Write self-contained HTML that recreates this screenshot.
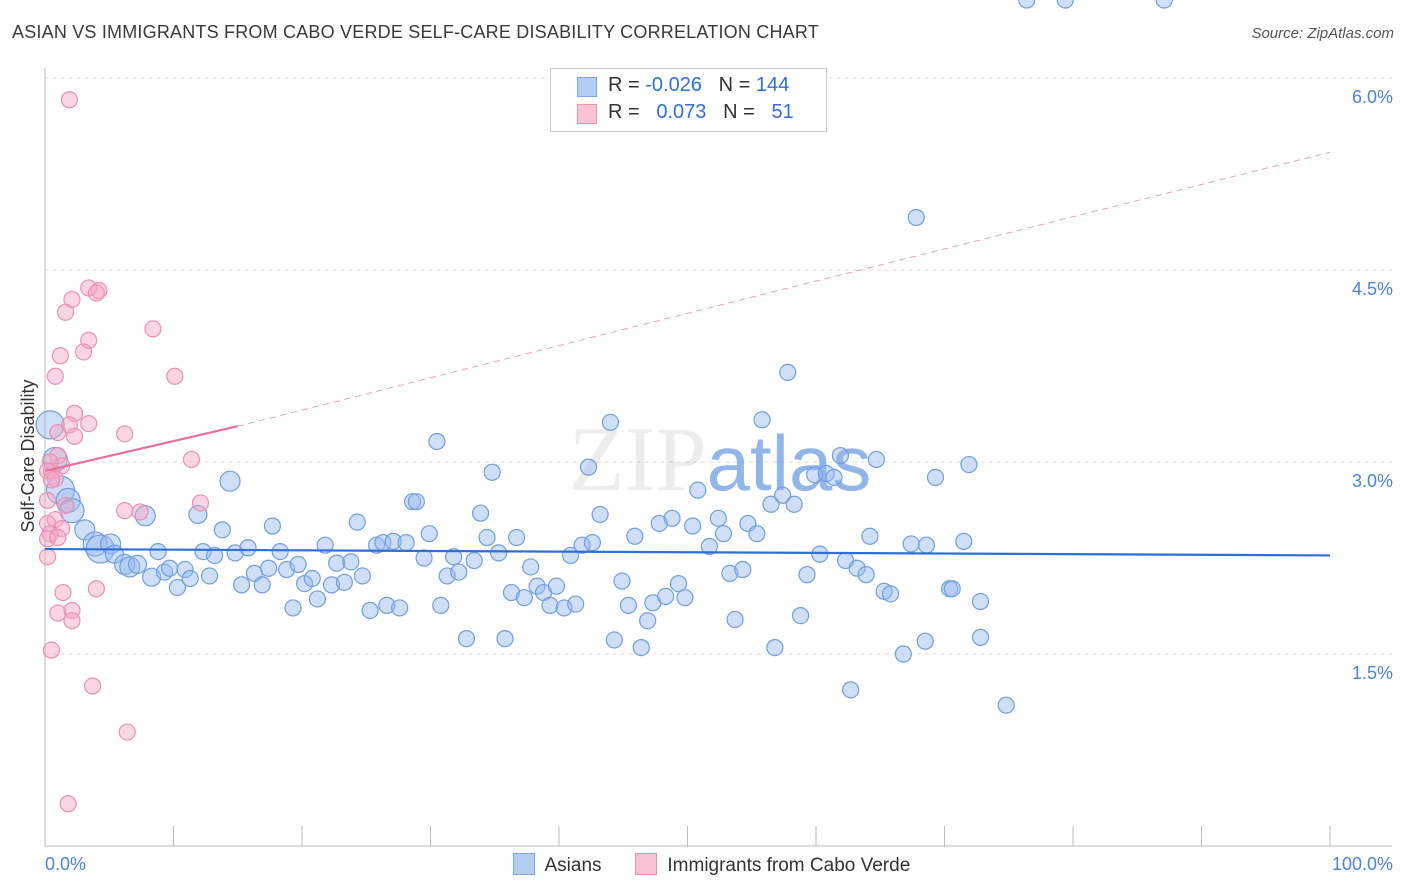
<!DOCTYPE html>
<html><head><meta charset="utf-8">
<style>
body{margin:0;background:#fff;font-family:"Liberation Sans",sans-serif;}
#wrap{position:relative;width:1406px;height:892px;overflow:hidden;}
.t{position:absolute;white-space:nowrap;}
</style></head><body>
<div id="wrap">
<div class="t" style="left:12px;top:22px;font-size:18px;color:#3a3a3a;letter-spacing:0.2px">ASIAN VS IMMIGRANTS FROM CABO VERDE SELF-CARE DISABILITY CORRELATION CHART</div>
<div class="t" style="right:12px;top:25px;font-size:15px;color:#555;font-style:italic">Source: ZipAtlas.com</div>
<svg id="svg" width="1406" height="892" style="position:absolute;left:0;top:0"></svg>
</div>
<script>
const yTicks=[1.5,3.0,4.5,6.0];
const yTickLabels=["1.5%","3.0%","4.5%","6.0%"];
const xTickLabels=["0.0%","100.0%"];
const asianX=[0.4,0.8,1.2,1.8,2.1,3.1,3.9,4.3,5.1,5.4,6.2,6.6,7.2,7.8,8.3,8.8,9.3,9.7,10.3,10.9,11.3,11.9,12.3,12.8,13.2,13.8,14.4,14.8,15.3,15.8,16.3,16.9,17.4,17.7,18.3,18.8,19.3,19.7,20.2,20.8,21.2,21.8,22.3,22.7,23.3,23.8,24.3,24.7,25.3,25.8,26.3,26.6,27.1,27.6,28.1,28.6,28.9,29.5,29.9,30.5,30.8,31.3,31.8,32.2,32.8,33.4,33.9,34.4,34.8,35.3,35.8,36.3,36.7,37.3,37.8,38.3,38.8,39.3,39.8,40.4,40.9,41.3,41.8,42.3,42.6,43.2,44.0,44.3,44.9,45.4,45.9,46.4,46.9,47.3,47.8,48.3,48.8,49.3,49.8,50.4,50.8,51.7,52.4,52.8,53.3,53.7,54.3,54.7,55.4,55.8,56.5,56.8,57.4,57.8,58.3,58.8,59.3,59.9,60.3,60.8,61.4,61.9,62.3,62.7,63.2,63.9,64.2,64.7,65.3,65.8,66.8,67.4,67.8,68.5,68.6,69.3,70.4,70.6,71.5,71.9,72.8,72.8,74.8,76.4,79.4,87.1];
const asianY=[3.29,3.02,2.78,2.70,2.62,2.47,2.36,2.32,2.36,2.28,2.20,2.18,2.20,2.58,2.10,2.30,2.14,2.17,2.02,2.16,2.09,2.59,2.30,2.11,2.27,2.47,2.85,2.29,2.04,2.33,2.13,2.04,2.17,2.50,2.30,2.16,1.86,2.20,2.05,2.09,1.93,2.35,2.04,2.21,2.06,2.22,2.53,2.11,1.84,2.35,2.37,1.88,2.38,1.86,2.37,2.69,2.69,2.25,2.44,3.16,1.88,2.11,2.26,2.14,1.62,2.23,2.60,2.41,2.92,2.29,1.62,1.98,2.41,1.94,2.18,2.03,1.98,1.88,2.03,1.86,2.27,1.89,2.35,2.96,2.37,2.59,3.31,1.61,2.07,1.88,2.42,1.55,1.76,1.90,2.52,1.95,2.56,2.05,1.94,2.50,2.78,2.34,2.56,2.44,2.13,1.77,2.16,2.52,2.44,3.33,2.67,1.55,2.74,3.70,2.67,1.80,2.12,2.90,2.28,2.91,2.88,3.05,2.23,1.22,2.17,2.12,2.42,3.02,1.99,1.97,1.50,2.36,4.91,1.60,2.35,2.88,2.01,2.01,2.38,2.98,1.63,1.91,1.10];
const asianR=[14,12,14,12,12,10,12,14,10,9,10,10,9,10,9,8,8,8,8,8,8,9,8,8,8,8,10];
const verdeX=[1.9,4.2,3.4,2.1,4.0,1.6,3.4,1.2,3.0,8.4,0.8,10.1,2.3,1.9,3.4,1.0,2.3,6.2,11.4,1.0,1.3,0.5,0.4,0.2,0.8,0.5,0.2,1.6,12.1,6.2,7.4,0.8,0.2,1.3,0.4,0.2,1.0,0.2,1.4,4.0,2.1,1.0,2.1,0.5,3.7,6.4,1.8];
const verdeY=[5.83,4.34,4.36,4.27,4.32,4.17,3.95,3.83,3.86,4.04,3.67,3.67,3.38,3.29,3.30,3.23,3.20,3.22,3.02,3.05,2.97,2.93,3.00,2.93,2.87,2.86,2.70,2.66,2.68,2.62,2.61,2.55,2.52,2.48,2.44,2.40,2.41,2.26,1.98,2.01,1.84,1.82,1.76,1.53,1.25,0.89,0.33];
const asianTrend=[2.32,2.27];
const verdeTrend=[2.93,3.28,5.42];

const ns="http://www.w3.org/2000/svg",svg=document.getElementById('svg');
const X0=45,X1=1330,Y0=846,PX=128;
const xs=v=>X0+v/100*(X1-X0);
const ys=v=>Y0-v*PX;
function mk(tag,attrs,parent){const e=document.createElementNS(ns,tag);for(const k in attrs)e.setAttribute(k,attrs[k]);(parent||svg).appendChild(e);return e;}
// gridlines
yTicks.forEach((t,i)=>{
 const g=mk('line',{x1:X0,x2:1392,y1:ys(t),y2:ys(t),stroke:'#dcdcdc','stroke-dasharray':'4,4'});
 
 
 const tx=mk('text',{x:1393,y:ys(t)+25,'text-anchor':'end','font-size':18,fill:'#4a84dc','font-family':'Liberation Sans'});
 tx.textContent=yTickLabels[i];
 
 
});
// axes
const ya=mk('line',{x1:X0,x2:X0,y1:68,y2:Y0,stroke:'#bbb'});


const xa=mk('line',{x1:X0,x2:1392,y1:Y0,y2:Y0,stroke:'#bbb'});


for(let i=0;i<=10;i++){
 const tk=mk('line',{x1:xs(i*10),x2:xs(i*10),y1:826,y2:Y0,stroke:'#bbb'});
 
 
}
[[0,'start'],[100,'end']].forEach((p,i)=>{
 const t=mk('text',{x:i?1393:45,y:870,'text-anchor':p[1],'font-size':18,fill:'#4a84dc','font-family':'Liberation Sans'});
 t.textContent=xTickLabels[i];
 
 
});
// watermark
const wm=mk('text',{x:720,y:490,'text-anchor':'middle','font-size':92,fill:'#000','fill-opacity':0.07,'font-family':'Liberation Serif'});
wm.innerHTML='ZIP<tspan fill="#4a84dc" fill-opacity="0.6" font-family="Liberation Sans" font-size="78">atlas</tspan>';


// y title
const yt=mk('text',{x:34,y:456,'text-anchor':'middle','font-size':18,fill:'#333',transform:'rotate(-90 34 456)','font-family':'Liberation Sans'});
yt.textContent='Self-Care Disability';


// points
asianX.forEach((v,i)=>{
 const c=mk('circle',{cx:xs(v),cy:ys(asianY[i]),r:asianR[i]||8,fill:'rgba(150,185,240,0.45)',stroke:'#6f9fe0','stroke-width':1.2});
 
 
});
verdeX.forEach((v,i)=>{
 const c=mk('circle',{cx:xs(v),cy:ys(verdeY[i]),r:8,fill:'rgba(245,165,195,0.45)',stroke:'#eb90b2','stroke-width':1.2});
 
 
});
// trends
const bl=mk('line',{x1:xs(0),x2:xs(100),y1:ys(asianTrend[0]),y2:ys(asianTrend[1]),stroke:'#2f6fd6','stroke-width':2.2});


const pl=mk('line',{x1:xs(0),x2:xs(15),y1:ys(verdeTrend[0]),y2:ys(verdeTrend[1]),stroke:'#e8709a','stroke-width':2.2});


const pd=mk('line',{x1:xs(15),x2:xs(100),y1:ys(verdeTrend[1]),y2:ys(verdeTrend[2]),stroke:'#e8a0b8','stroke-width':1,'stroke-dasharray':'6,5'});


</script>
<div class="t" style="left:550px;top:68px;width:275px;height:62px;border:1px solid #ccc;background:#fff;font-size:20px">
 <div style="position:absolute;left:26px;top:8px;width:18px;height:18px;background:#b5cdf3;border:1px solid #7aa6e3"></div>
 <div style="position:absolute;left:57px;top:5px;color:#333">R = <span style="color:#2f6fd6">-0.026</span>&nbsp;&nbsp;&nbsp;N = <span style="color:#2f6fd6">144</span></div>
 <div style="position:absolute;left:26px;top:35px;width:18px;height:18px;background:#f8c4d5;border:1px solid #eb90b2"></div>
 <div style="position:absolute;left:57px;top:32px;color:#333">R = &nbsp;&nbsp;<span style="color:#2f6fd6">0.073</span>&nbsp;&nbsp;&nbsp;N = &nbsp;&nbsp;<span style="color:#2f6fd6">51</span></div>
</div>
<div class="t" style="left:513px;top:853px;font-size:19px;color:#333">
 <span style="display:inline-block;width:20px;height:20px;background:#b5cdf3;border:1px solid #7aa6e3;vertical-align:-4px"></span>&nbsp; Asians
 <span style="display:inline-block;width:20px;height:20px;background:#f8c4d5;border:1px solid #eb90b2;vertical-align:-4px;margin-left:28px"></span>&nbsp; Immigrants from Cabo Verde
</div>
</body></html>
